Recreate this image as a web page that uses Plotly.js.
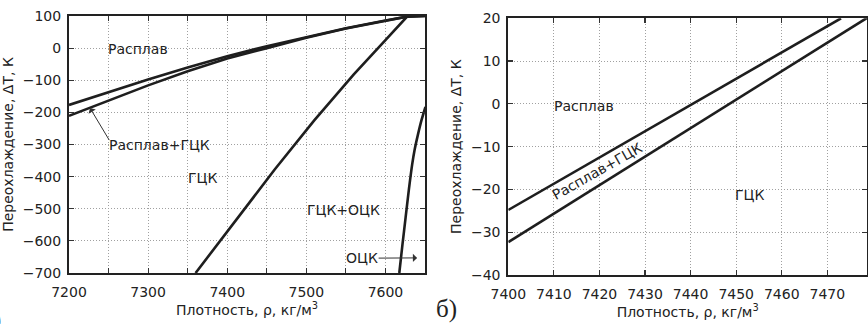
<!DOCTYPE html>
<html>
<head>
<meta charset="utf-8">
<script src="https://cdn.plot.ly/plotly-3.0.1.min.js"></script>
<style>
html,body{margin:0;padding:0;background:#fff;}
#chart{width:868px;height:324px;}
</style>
</head>
<body>
<div id="chart"></div>
<script>
// ---- Panel (а): full density range ----
const liqX = [7200, 7250, 7300, 7350, 7400, 7450, 7500, 7550, 7600, 7627, 7650];
const liqY = [-177, -137, -98, -60, -25, 6, 35, 62, 86, 98, 100];
const solX = [7200, 7250, 7300, 7350, 7400, 7450, 7480, 7500, 7550, 7600, 7627, 7650];
const solY = [-211, -163, -116, -72, -32, 0, 20, 32, 61, 85.5, 98, 100];
const fccBccX = [7360, 7410, 7460, 7510, 7560, 7600, 7628];
const fccBccY = [-700, -538, -378, -225, -82, 25, 100];
const bccX = [7617.5, 7621.5, 7625.5, 7629.5, 7633.8, 7637, 7641, 7645.5, 7650.6];
const bccY = [-700, -612, -527, -443, -362, -315, -270, -225, -183];

// ---- Panel (б): zoomed region ----
const zUpX = [7400, 7420, 7440, 7460, 7473];
const zUpY = [-24.8, -12.5, -0.2, 12, 20];
const zLoX = [7400, 7420, 7440, 7460, 7479];
const zLoY = [-32.3, -19, -5.7, 7.6, 20.3];

// ---- Text labels ----
const xTitle = 'Плотность, ρ, кг/м<sup>3</sup>';
const yTitle = 'Переохлаждение, ΔT, К';
const leftLabels = [
  {t: 'Расплав', x: 7287, y: -3},
  {t: 'ГЦК', x: 7369, y: -405},
  {t: 'ГЦК+ОЦК', x: 7547, y: -504},
];
const rightLabels = [
  {t: 'Расплав', x: 7416.5, y: -0.5},
  {t: 'ГЦК', x: 7453, y: -21.3},
];

const lineCol = '#1e1e1e';
const FONT = 'DejaVu Sans, sans-serif';
const FS = 14;
const lineStyle = {color: lineCol, width: 2.6};

const traces = [
  {x: liqX, y: liqY, xaxis: 'x', yaxis: 'y'},
  {x: solX, y: solY, xaxis: 'x', yaxis: 'y'},
  {x: fccBccX, y: fccBccY, xaxis: 'x', yaxis: 'y'},
  {x: bccX, y: bccY, xaxis: 'x', yaxis: 'y', line: {color: lineCol, width: 2.6, shape: 'spline', smoothing: 0.9}},
  {x: zUpX, y: zUpY, xaxis: 'x2', yaxis: 'y2'},
  {x: zLoX, y: zLoY, xaxis: 'x2', yaxis: 'y2'},
].map(t => Object.assign({type: 'scatter', mode: 'lines', line: lineStyle, hoverinfo: 'skip', showlegend: false}, t));

const W = 868, H = 324;
const gridCol = '#a0a0a0';
const gdash = '1px,2px';
function xax(domain, range, dtick, minor) {
  const a = {
    domain: domain, range: range, dtick: dtick, tick0: range[0],
    ticks: 'inside', ticklen: 5, tickwidth: 1.2, tickcolor: '#333',
    mirror: 'allticks', showline: true, linewidth: 2, linecolor: '#222',
    showgrid: true, gridcolor: gridCol, griddash: gdash, gridwidth: 1,
    zeroline: false, tickfont: {family: FONT, size: FS, color: '#222'},
    ticklabelstandoff: 5,
    title: {text: xTitle, font: {family: FONT, size: FS, color: '#222'}, standoff: 0},
    automargin: false
  };
  if (minor) a.minor = {dtick: minor, ticks: 'inside', ticklen: 5, tickcolor: '#333', showgrid: true, gridcolor: gridCol, griddash: gdash, gridwidth: 1};
  return a;
}
function yax(domain, range, dtick, anchor) {
  return {
    domain: domain, range: range, dtick: dtick, tick0: range[0], anchor: anchor,
    ticks: 'inside', ticklen: 5, tickwidth: 1.2, tickcolor: '#333',
    mirror: 'allticks', showline: true, linewidth: 2, linecolor: '#222',
    showgrid: true, gridcolor: gridCol, griddash: gdash, gridwidth: 1,
    zeroline: false, tickfont: {family: FONT, size: FS, color: '#222'},
    ticklabelstandoff: 3,
    title: {text: yTitle, font: {family: FONT, size: FS, color: '#222'}, standoff: 6},
    automargin: false
  };
}

const ann = [];
const af = {family: FONT, size: FS, color: '#222'};
leftLabels.forEach(l => ann.push({xref: 'x', yref: 'y', x: l.x, y: l.y, text: l.t, showarrow: false, font: af}));
rightLabels.forEach(l => ann.push({xref: 'x2', yref: 'y2', x: l.x, y: l.y, text: l.t, showarrow: false, font: af}));
// Расплав+ГЦК label with arrow (panel а)
ann.push({xref: 'x', yref: 'y', x: 7314, y: -302, text: 'Расплав+ГЦК', showarrow: false, font: af});
ann.push({xref: 'x', yref: 'y', x: 7226.6, y: -186.6, axref: 'x', ayref: 'y', ax: 7252, ay: -291, text: '', showarrow: true, arrowhead: 1, arrowsize: 1.4, arrowwidth: 1, arrowcolor: '#333', standoff: 0, startstandoff: 0});
// ОЦК label with arrow pointing to the ОЦК boundary
ann.push({xref: 'x', yref: 'y', x: 7640, y: -653, axref: 'x', ayref: 'y', ax: 7570.5, ay: -654, text: 'ОЦК', showarrow: true, arrowhead: 1, arrowsize: 1.4, arrowwidth: 1, arrowcolor: '#333', standoff: 0, startstandoff: 0, borderpad: 0, font: af});
// Rotated label between lines (panel б)
ann.push({xref: 'x2', yref: 'y2', x: 7419.6, y: -15.8, text: 'Расплав+ГЦК', textangle: -29.5, showarrow: false, font: af});
// Panel letters
ann.push({xref: 'paper', yref: 'paper', x: 446 / W, y: 1 - 309 / H, yanchor: 'middle', text: 'б)', showarrow: false, font: {family: 'Liberation Serif, Times New Roman, serif', size: 25, color: '#222'}});
ann.push({xref: 'paper', yref: 'paper', x: 3 / W, xanchor: 'right', y: 1 - 320 / H, yanchor: 'middle', text: 'а)', showarrow: false, font: {family: 'Liberation Serif, Times New Roman, serif', size: 25, color: '#222'}});

const layout = {
  width: W, height: H,
  margin: {l: 0, r: 0, t: 0, b: 0, pad: 0},
  paper_bgcolor: '#fff', plot_bgcolor: '#fff',
  showlegend: false,
  xaxis: xax([69 / W, 425 / W], [7200, 7650], 100, 50),
  yaxis: yax([1 - 273 / H, 1 - 16 / H], [-700, 100], 100, 'x'),
  xaxis2: Object.assign(xax([508.3 / W, 867 / W], [7400, 7478.7], 10, null), {anchor: 'y2'}),
  yaxis2: yax([1 - 275 / H, 1 - 18.3 / H], [-40, 20], 10, 'x2'),
  annotations: ann
};
layout.xaxis.anchor = 'y';

Plotly.newPlot('chart', traces, layout, {displayModeBar: false, staticPlot: true});
</script>
</body>
</html>
